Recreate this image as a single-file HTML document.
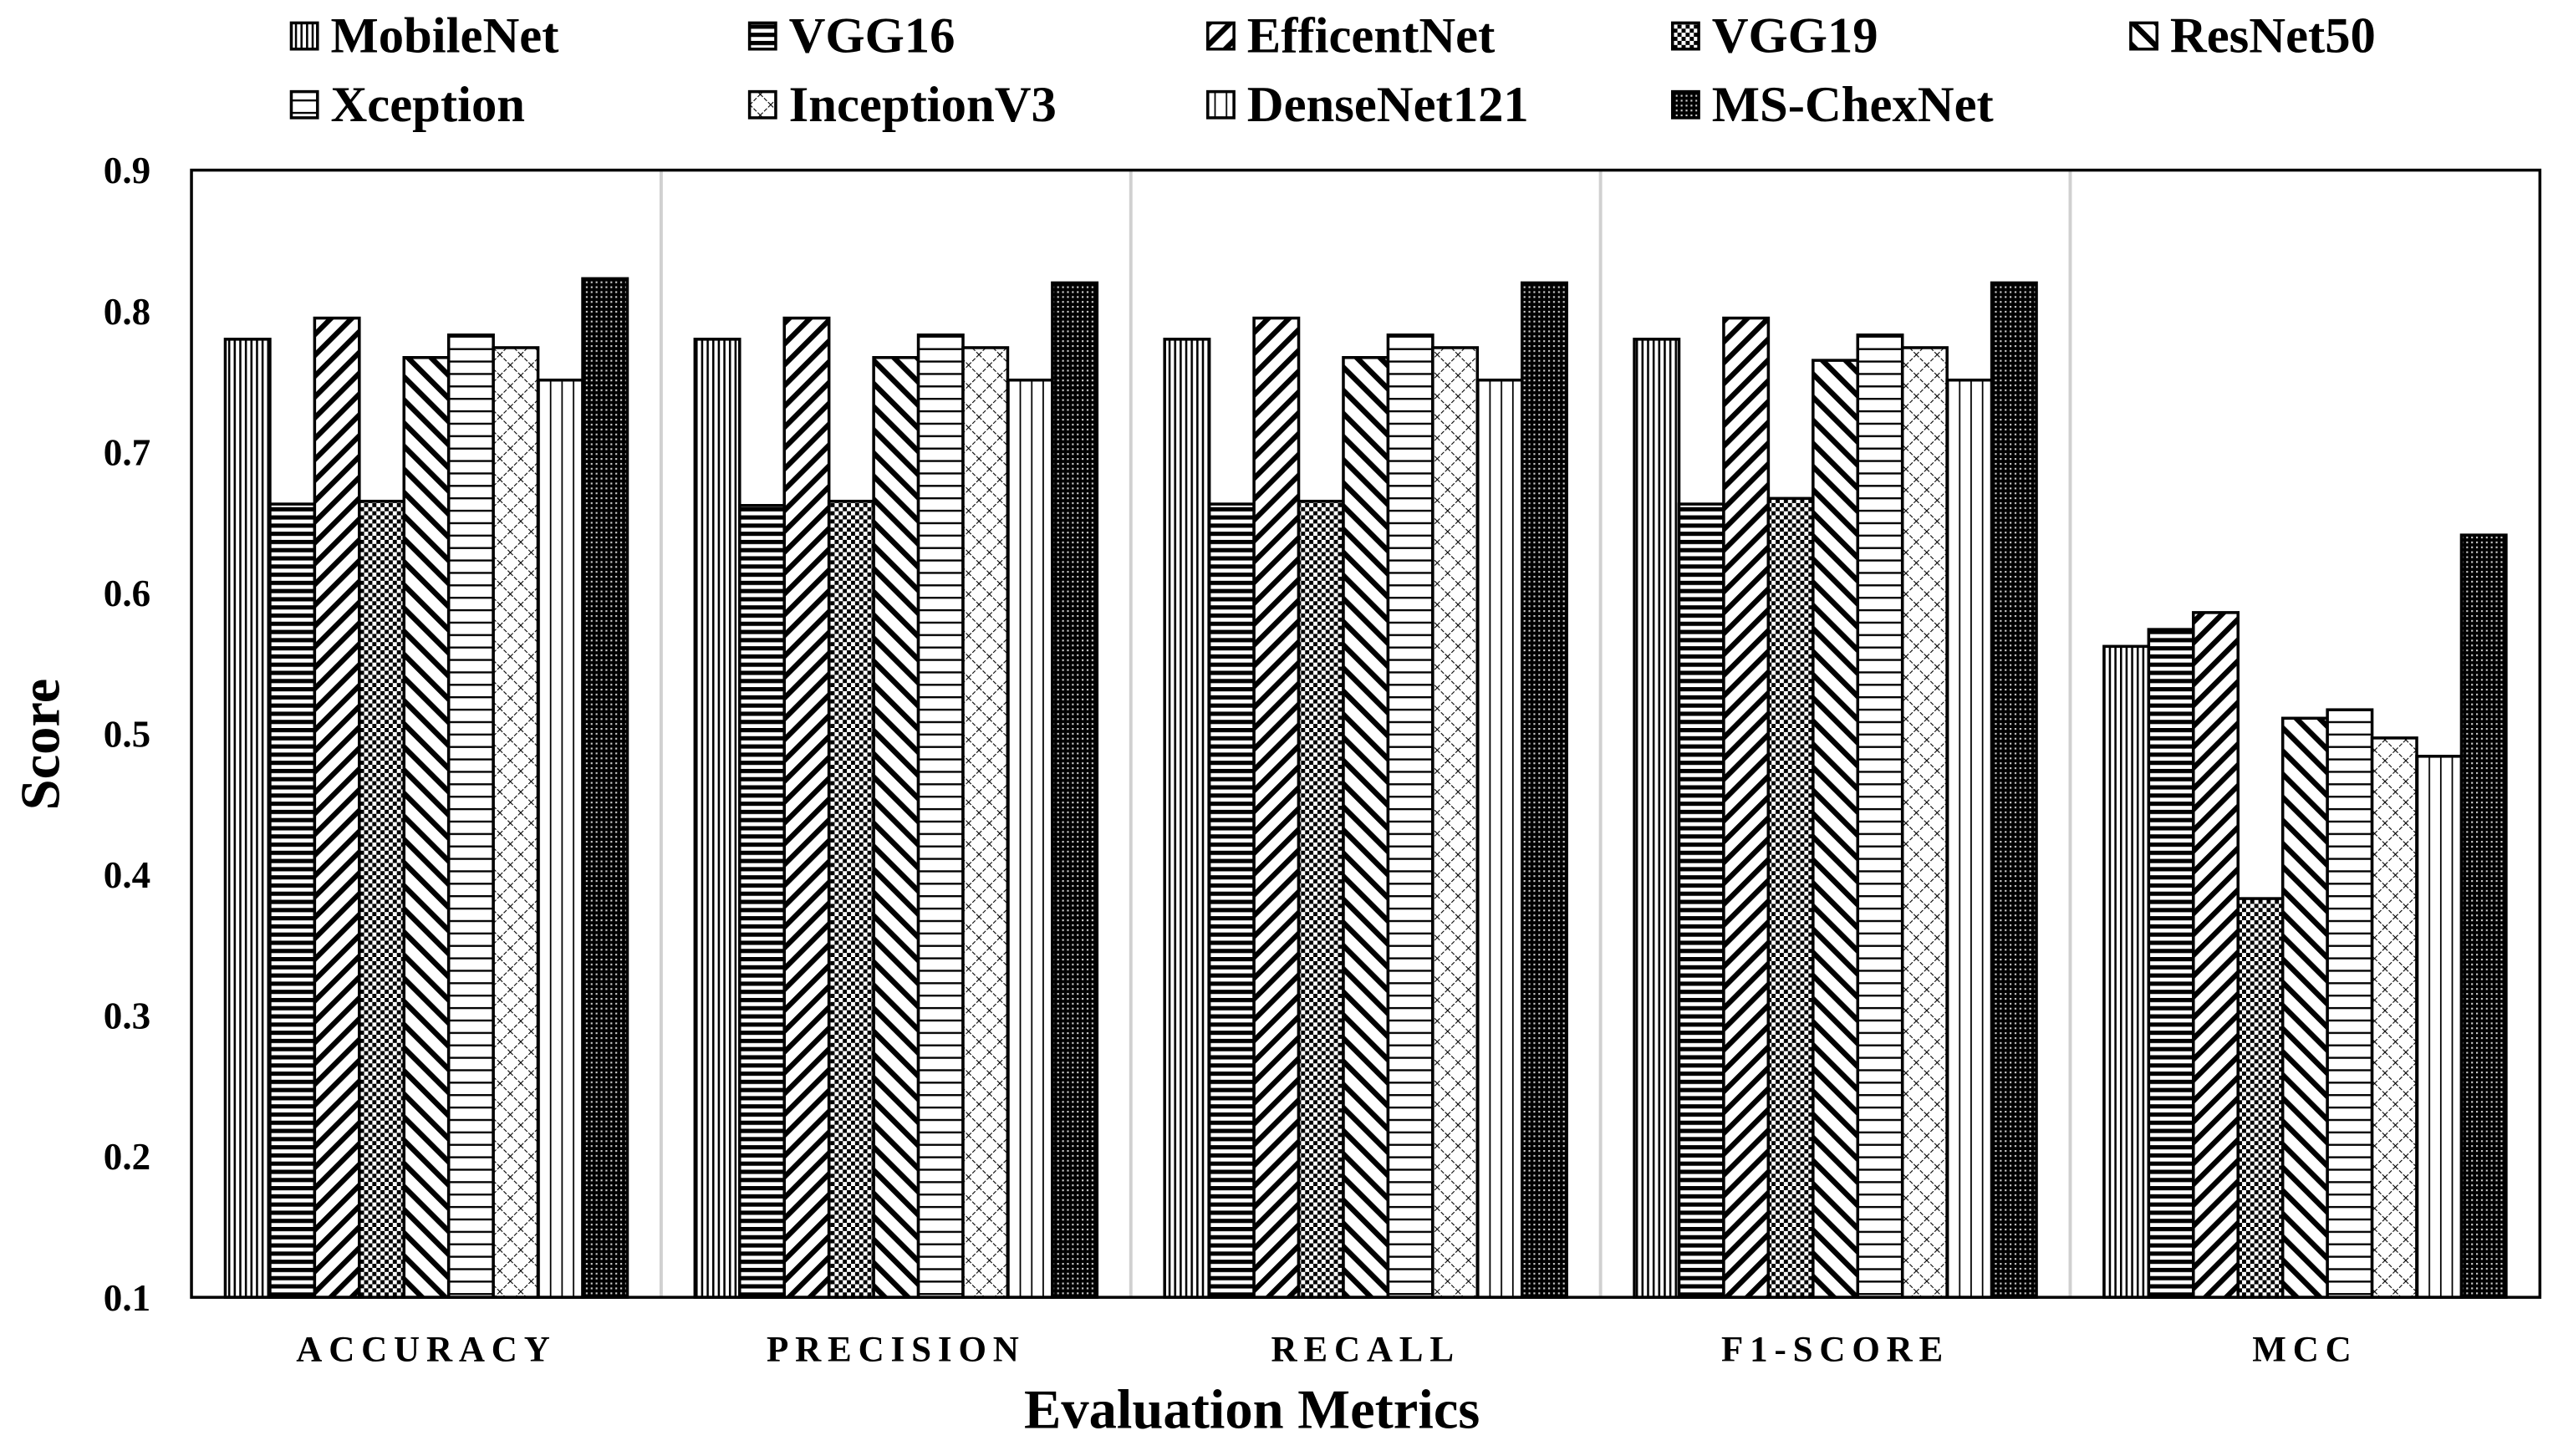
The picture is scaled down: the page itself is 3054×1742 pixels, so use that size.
<!DOCTYPE html>
<html><head><meta charset="utf-8">
<style>
html,body{margin:0;padding:0;background:#fff;}
svg{display:block;}
text{font-family:"Liberation Serif",serif;font-weight:bold;fill:#000;}
</style></head>
<body>
<svg id="chart" width="3054" height="1742" viewBox="0 0 1560 890" preserveAspectRatio="none" xmlns="http://www.w3.org/2000/svg">
<defs>
  <pattern id="p0" patternUnits="userSpaceOnUse" width="3.4" height="10"><rect width="3.4" height="10" fill="#fff"/><rect x="0" width="1.3" height="10" fill="#000"/></pattern>
  <pattern id="p1" patternUnits="userSpaceOnUse" width="10" height="5"><rect width="10" height="5" fill="#fff"/><rect y="0" width="10" height="2.6" fill="#000"/></pattern>
  <pattern id="p2" patternUnits="userSpaceOnUse" width="9" height="9" patternTransform="rotate(45)"><rect width="9" height="9" fill="#fff"/><rect x="0" width="3.2" height="9" fill="#000"/></pattern>
  <pattern id="p3" patternUnits="userSpaceOnUse" width="5" height="5"><rect width="5" height="5" fill="#fff"/><rect width="2.5" height="2.5" fill="#000"/><rect x="2.5" y="2.5" width="2.5" height="2.5" fill="#000"/></pattern>
  <pattern id="p4" patternUnits="userSpaceOnUse" width="10" height="10" patternTransform="rotate(-45)"><rect width="10" height="10" fill="#fff"/><rect x="0" width="3.3" height="10" fill="#000"/></pattern>
  <pattern id="p5" patternUnits="userSpaceOnUse" width="10" height="7.6"><rect width="10" height="7.6" fill="#fff"/><rect y="0" width="10" height="1.2" fill="#000"/></pattern>
  <pattern id="p6" patternUnits="userSpaceOnUse" width="9" height="9" patternTransform="rotate(45)"><rect width="9" height="9" fill="#fff"/><line x1="0" y1="0" x2="0" y2="9" stroke="#000" stroke-width="1.1" stroke-dasharray="2.5,1"/><line x1="0" y1="0" x2="9" y2="0" stroke="#000" stroke-width="1.1" stroke-dasharray="2.5,1"/></pattern>
  <pattern id="p7" patternUnits="userSpaceOnUse" width="7" height="10"><rect width="7" height="10" fill="#fff"/><rect x="0" width="0.9" height="10" fill="#000"/></pattern>
  <pattern id="p8" patternUnits="userSpaceOnUse" width="3" height="3"><rect width="3" height="3" fill="#000"/><rect x="1" y="1" width="1.1" height="1.1" fill="#ccc"/></pattern>
</defs>
<g id="grid"></g>
<g id="bars"></g>
<rect x="117" y="104" width="1435" height="689" fill="none" stroke="#000" stroke-width="1.8"/>
<g id="axes"></g>
<g id="legend"></g>
<text x="0" y="0" font-size="34" text-anchor="middle" transform="translate(36,455) rotate(-90)">Score</text>
<text x="765" y="873" font-size="34" text-anchor="middle">Evaluation Metrics</text>
</svg>
<script>
const categories = ["ACCURACY","PRECISION","RECALL","F1-SCORE","MCC"];
const seriesNames = ["MobileNet","VGG16","EfficentNet","VGG19","ResNet50","Xception","InceptionV3","DenseNet121","MS-ChexNet"];
const mobileNet   = [0.780,0.780,0.780,0.780,0.562];
const vgg16       = [0.663,0.662,0.663,0.663,0.574];
const efficentNet = [0.795,0.795,0.795,0.795,0.586];
const vgg19       = [0.665,0.665,0.665,0.667,0.383];
const resNet50    = [0.767,0.767,0.767,0.765,0.511];
const xception    = [0.783,0.783,0.783,0.783,0.517];
const inceptionV3 = [0.774,0.774,0.774,0.774,0.497];
const denseNet121 = [0.751,0.751,0.751,0.751,0.484];
const msChexNet   = [0.823,0.820,0.820,0.820,0.641];
const yTicks = ["0.1","0.2","0.3","0.4","0.5","0.6","0.7","0.8","0.9"];

const series = [mobileNet,vgg16,efficentNet,vgg19,resNet50,xception,inceptionV3,denseNet121,msChexNet];
const NS="http://www.w3.org/2000/svg";
const L=117,R=1552,T=104,B=793,yMin=0.1,yMax=0.9;
const y = v => B-(v-yMin)/(yMax-yMin)*(B-T);
const gw=(R-L)/categories.length;
const bw=27.3, pad=(gw-bw*series.length)/2;
const x = (ci,si) => L+ci*gw+pad+si*bw;
function mk(tag,attrs,parent){const e=document.createElementNS(NS,tag);for(const k in attrs)e.setAttribute(k,attrs[k]);parent.appendChild(e);return e;}
const grid=document.getElementById('grid'),bars=document.getElementById('bars'),axes=document.getElementById('axes'),legend=document.getElementById('legend');
for(let c=1;c<categories.length;c++){
  const ln=mk('line',{x1:L+c*gw,x2:L+c*gw,y1:T,y2:B,stroke:'#d0d0d0','stroke-width':2},grid);
  
  
}
categories.forEach((cat,ci)=>{
  series.forEach((s,si)=>{
    const v=s[ci];
    const r=mk('rect',{x:x(ci,si),y:y(v),width:bw,height:B-y(v),fill:'url(#p'+si+')',stroke:'#000','stroke-width':1.8},bars);
    
    
  });
  const t=mk('text',{x:L+ci*gw+gw/2,y:832,'font-size':22,'text-anchor':'middle','letter-spacing':'4'},axes);
  t.textContent=cat;
  
  
});
yTicks.forEach(tk=>{
  const t=mk('text',{x:92,y:y(parseFloat(tk))+8,'font-size':23,'text-anchor':'end'},axes);
  t.textContent=tk;
  
  
});
const legX=[178,458,738,1022,1302], legY=[22,64];
seriesNames.forEach((n,i)=>{
  const cx=legX[i%5], cy=legY[Math.floor(i/5)];
  const g=mk('g',{},legend);
  
  
  mk('rect',{x:cx,y:cy-8,width:16,height:16,fill:'url(#p'+i+')',stroke:'#000','stroke-width':1.8},g);
  const t=mk('text',{x:cx+24,y:cy+10,'font-size':31},g);
  t.textContent=n;
});
</script>
</body></html>
